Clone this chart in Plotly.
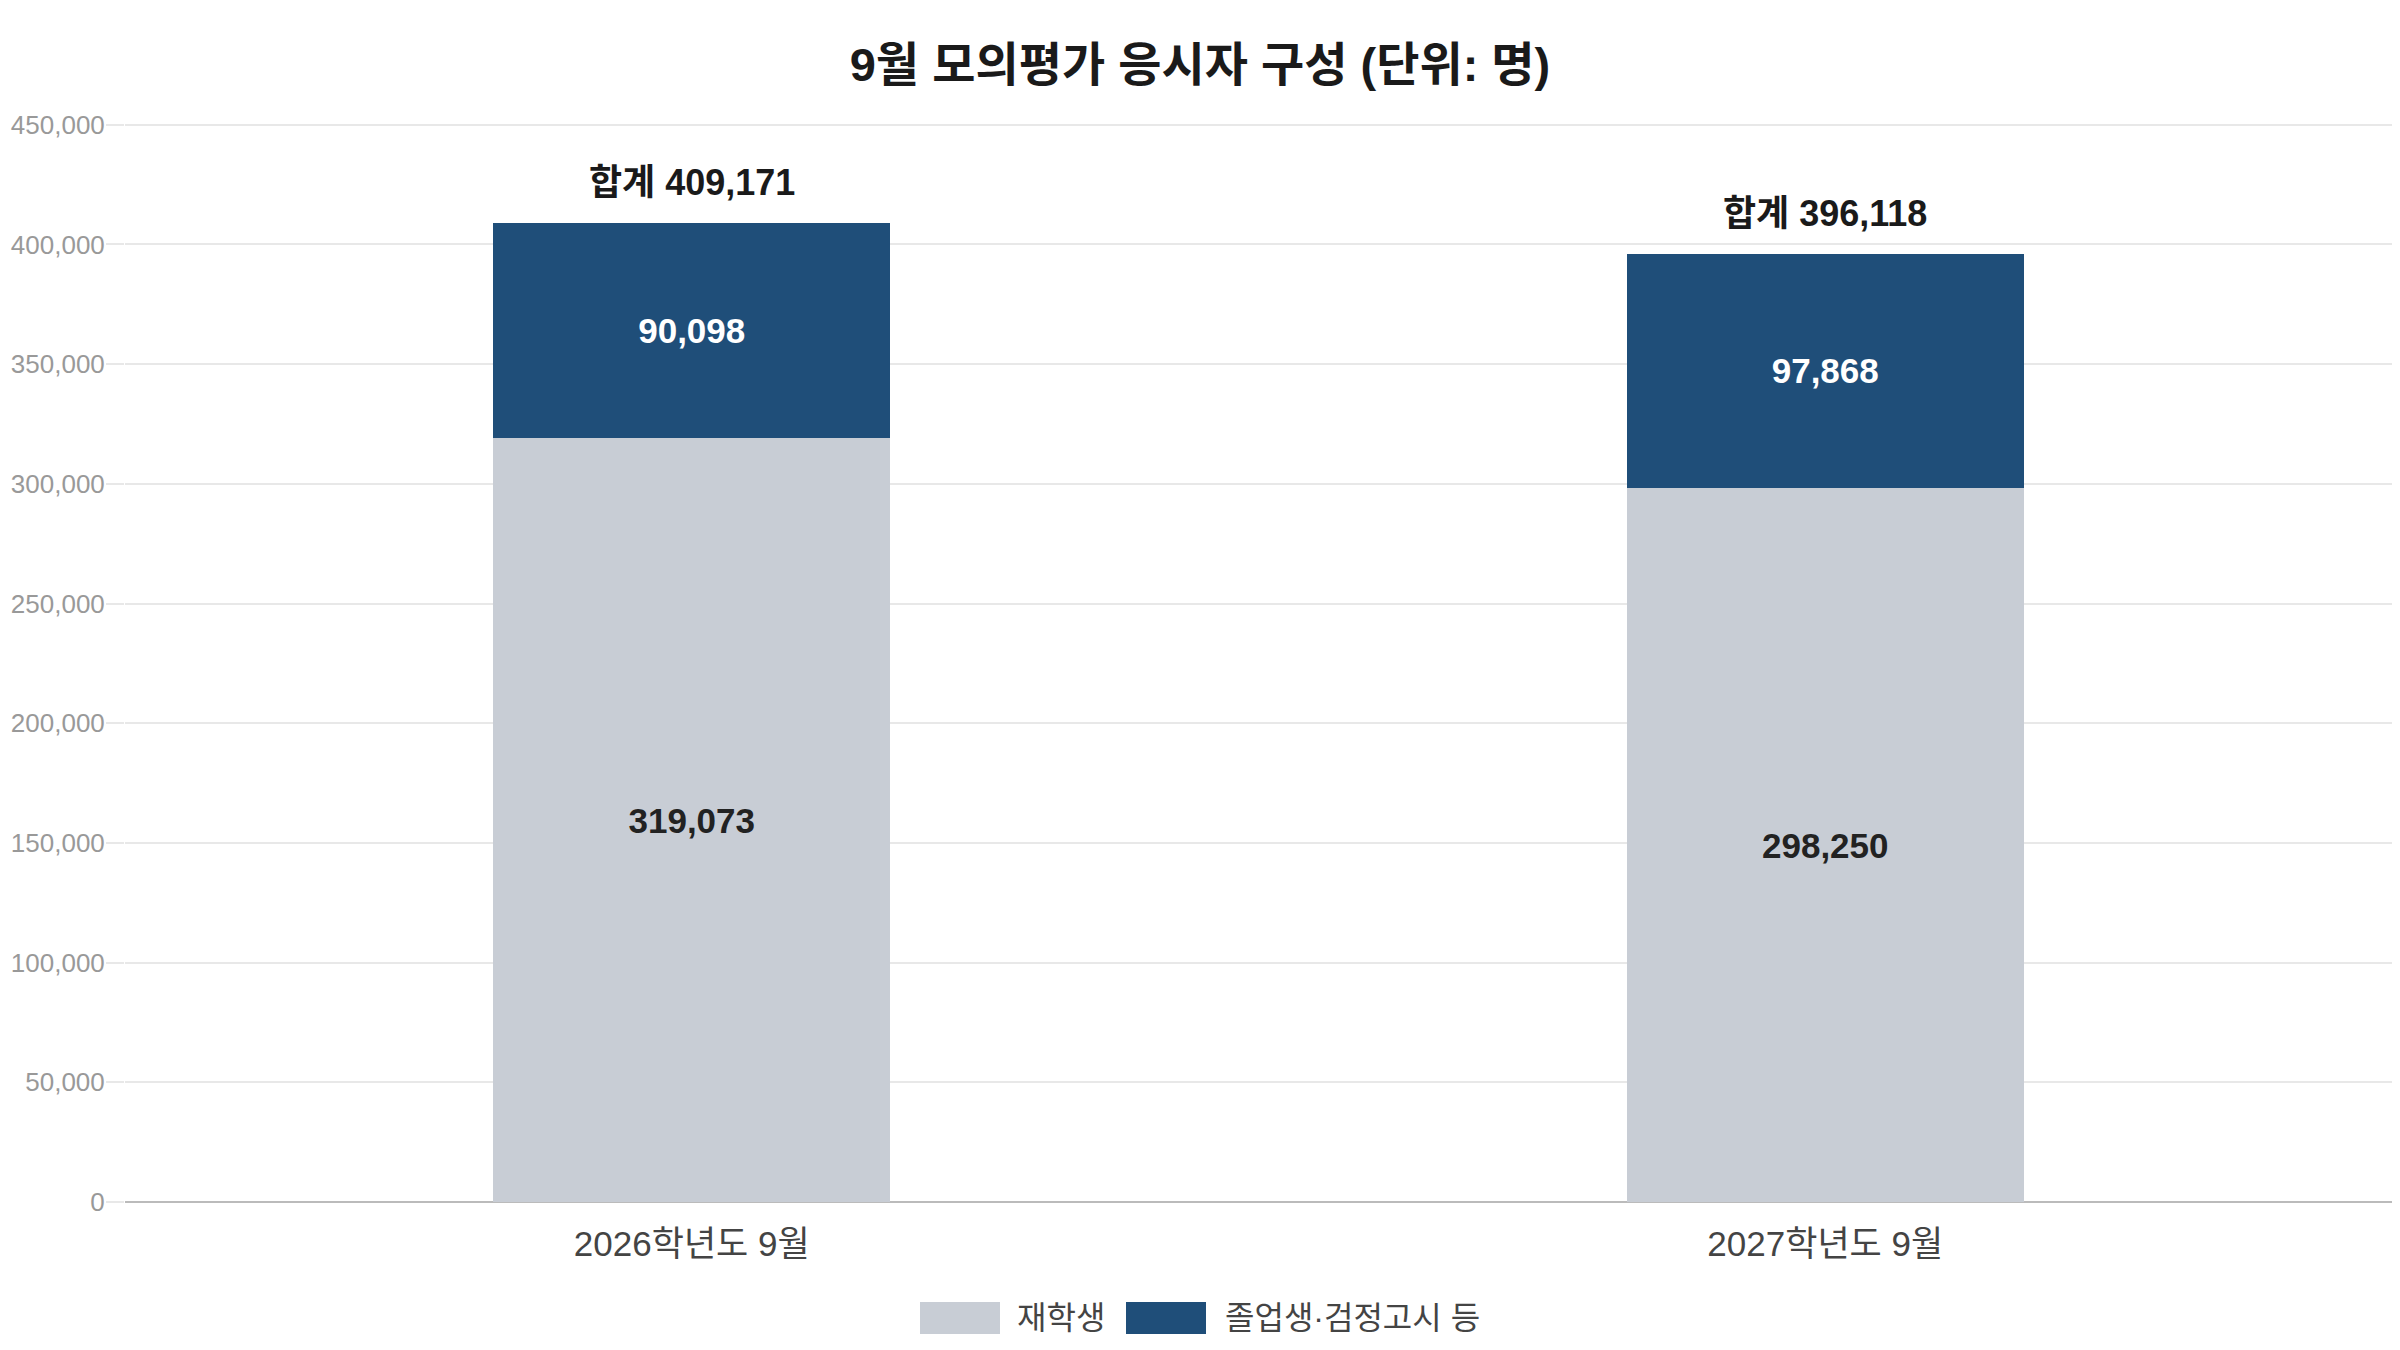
import plotly.graph_objects as go

# 데이터
categories = ["2026학년도 9월", "2027학년도 9월"]
series_names = ["재학생", "졸업생·검정고시 등"]
enrolled = [319073, 298250]     # 재학생
graduates = [90098, 97868]      # 졸업생·검정고시 등
totals = [a + b for a, b in zip(enrolled, graduates)]

GRAY = "#C8CDD5"
NAVY = "#1F4E79"
GRID = "#E8E8E8"
FONT = "Liberation Sans, Noto Sans CJK KR, sans-serif"

# 브라우저 body 여백(8px)을 고려한 크기
OFF = 8
W, H = 2400 - 2 * OFF, 1350 - 2 * OFF
M = dict(l=117, r=0, t=112, b=140)


# 화면 픽셀 위치 -> paper 좌표 (범례 배치용)
def px_x(x):
    return (x - OFF - M["l"]) / (W - M["l"] - M["r"])


def px_y(y):
    return (H - M["b"] - (y - OFF)) / (H - M["t"] - M["b"])


fig = go.Figure()

fig.add_trace(go.Bar(
    x=categories, y=enrolled, name=series_names[0],
    marker=dict(color=GRAY, line=dict(width=0)),
    text=[f"{v:,}" for v in enrolled],
    textposition="inside", insidetextanchor="middle", textangle=0,
    textfont=dict(family=FONT, size=35, color="#222222", weight="bold"),
    hovertemplate="%{x}<br>재학생: %{y:,}<extra></extra>",
))

fig.add_trace(go.Bar(
    x=categories, y=graduates, name=series_names[1],
    marker=dict(color=NAVY, line=dict(width=0)),
    text=[f"{v:,}" for v in graduates],
    textposition="inside", insidetextanchor="middle", textangle=0,
    textfont=dict(family=FONT, size=35, color="#ffffff", weight="bold"),
    hovertemplate="%{x}<br>졸업생·검정고시 등: %{y:,}<extra></extra>",
))

# 합계 라벨
for cat, tot in zip(categories, totals):
    fig.add_annotation(
        x=cat, y=tot, text=f"합계 {tot:,}", showarrow=False,
        yanchor="middle", yshift=40,
        font=dict(family=FONT, size=36, color="#1a1a1a", weight="bold"),
    )

# 범례 (박스 80x32)
legend_items = [
    (series_names[0], GRAY, 920, 1015),
    (series_names[1], NAVY, 1126, 1223),
]
for name, color, box_x, text_x in legend_items:
    fig.add_shape(
        type="rect", xref="paper", yref="paper",
        x0=px_x(box_x), x1=px_x(box_x + 80),
        y0=px_y(1334), y1=px_y(1302),
        fillcolor=color, line=dict(width=0),
    )
    fig.add_annotation(
        xref="paper", yref="paper", x=px_x(text_x), y=px_y(1318),
        xanchor="left", yanchor="middle", showarrow=False,
        text=name, font=dict(family=FONT, size=32, color="#444444"),
    )

fig.update_layout(
    width=W, height=H,
    margin=M,
    barmode="stack",
    bargap=0.65,
    showlegend=False,
    paper_bgcolor="white",
    plot_bgcolor="white",
    font=dict(family=FONT),
    title=dict(
        text="9월 모의평가 응시자 구성 (단위: 명)",
        x=0.5, xref="container", xanchor="center",
        y=1 - (65 - OFF) / H, yref="container", yanchor="middle",
        font=dict(family=FONT, size=47, color="#1a1a1a", weight="bold"),
    ),
)

fig.update_xaxes(
    showgrid=False, ticks="", showline=False, automargin=False,
    tickfont=dict(family=FONT, size=35, color="#444444"),
    ticklabelstandoff=18,
)

fig.update_yaxes(
    range=[0, 452000], dtick=50000, tickformat=",", automargin=False,
    showgrid=True, gridcolor=GRID, gridwidth=2,
    zeroline=True, zerolinecolor="#BBBBBB", zerolinewidth=2,
    ticks="outside", ticklen=18, tickwidth=2, tickcolor=GRID,
    ticklabelstandoff=-4,
    tickfont=dict(family=FONT, size=26, color="#999999"),
)

fig.write_html("out.html")
